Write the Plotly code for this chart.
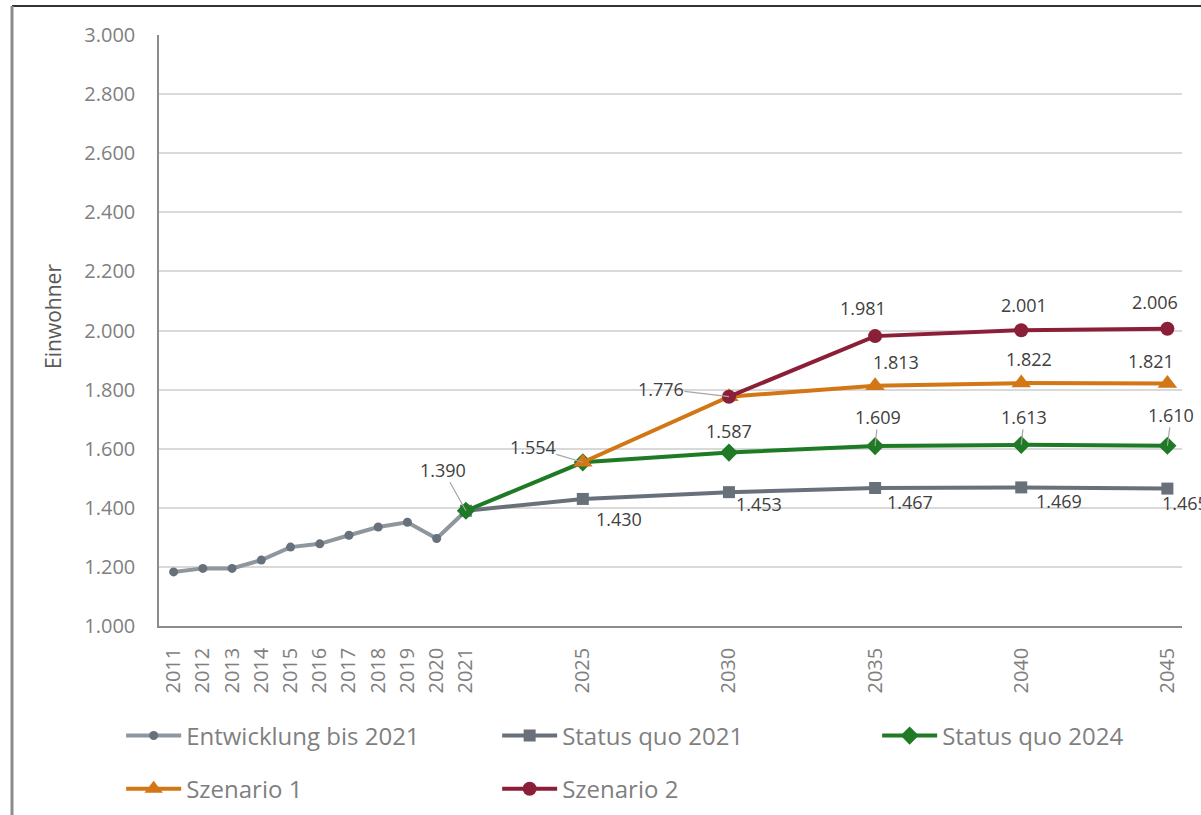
import plotly.graph_objects as go

# Einwohnerentwicklung und Prognosevarianten
hist_years = [2011, 2012, 2013, 2014, 2015, 2016, 2017, 2018, 2019, 2020, 2021]
hist_values = [1183, 1195, 1195, 1223, 1267, 1278, 1307, 1335, 1351, 1296, 1390]

sq21_years = [2021, 2025, 2030, 2035, 2040, 2045]
sq21_values = [1390, 1430, 1453, 1467, 1469, 1465]

sq24_years = [2021, 2025, 2030, 2035, 2040, 2045]
sq24_values = [1390, 1554, 1587, 1609, 1613, 1610]

sz1_years = [2025, 2030, 2035, 2040, 2045]
sz1_values = [1554, 1776, 1813, 1822, 1821]

sz2_years = [2030, 2035, 2040, 2045]
sz2_values = [1776, 1981, 2001, 2006]

x_ticks = hist_years + [2025, 2030, 2035, 2040, 2045]

FONT = "Open Sans"
TICK_GREY = "#7f7f7f"
LABEL_COL = "#404040"
LEADER_COL = "#a6a6a6"

fig = go.Figure()

fig.add_trace(go.Scatter(
    x=hist_years, y=hist_values, name="Entwicklung bis 2021", mode="lines+markers",
    line=dict(color="#8e969e", width=4),
    marker=dict(symbol="circle", size=9, color="#67717b"),
    legend="legend",
))
fig.add_trace(go.Scatter(
    x=sq21_years, y=sq21_values, name="Status quo 2021", mode="lines+markers",
    line=dict(color="#68717a", width=4),
    marker=dict(symbol="square", size=12, color="#68717a"),
    legend="legend",
))
fig.add_trace(go.Scatter(
    x=sq24_years, y=sq24_values, name="Status quo 2024", mode="lines+markers",
    line=dict(color="#1f7a25", width=4),
    marker=dict(symbol="diamond", size=14, color="#1f7a25"),
    legend="legend3",
))
fig.add_trace(go.Scatter(
    x=sz1_years, y=sz1_values, name="Szenario 1", mode="lines+markers",
    line=dict(color="#d27616", width=4),
    marker=dict(symbol="triangle-up", size=17, color="#d27616"),
    legend="legend2",
))
fig.add_trace(go.Scatter(
    x=sz2_years, y=sz2_values, name="Szenario 2", mode="lines+markers",
    line=dict(color="#8b1f38", width=4),
    marker=dict(symbol="circle", size=14, color="#8b1f38"),
    legend="legend2",
))


def fmt(v):
    return f"{v:,}".replace(",", ".")


# data labels: (year, value, dx, dy, leader line)
label_specs = [
    (2021, sq24_values[0], -23, -41, True),
    (2025, sq24_values[1], -50, -15, True),
    (2030, sz1_values[1], -68, -8, True),
    (2030, sq24_values[2], 0, -22, False),
    (2035, sq24_values[3], 3, -29, True),
    (2040, sq24_values[4], 3, -28, True),
    (2045, sq24_values[5], 4, -31, True),
    (2025, sq21_values[1], 36, 20, False),
    (2030, sq21_values[2], 30, 12, False),
    (2035, sq21_values[3], 35, 14, False),
    (2040, sq21_values[4], 38, 14, False),
    (2045, sq21_values[5], 18, 14, False),
    (2035, sz1_values[2], 21, -24, False),
    (2040, sz1_values[3], 8, -24, False),
    (2045, sz1_values[4], -16, -22, False),
    (2035, sz2_values[1], -12, -28, False),
    (2040, sz2_values[2], 3, -25, False),
    (2045, sz2_values[3], -12, -27, False),
]

for yr, val, dx, dy, leader in label_specs:
    common = dict(x=yr, y=val, xref="x", yref="y", text=fmt(val),
                  font=dict(family=FONT, size=18, color=LABEL_COL))
    if leader:
        fig.add_annotation(**common, showarrow=True, ax=dx, ay=dy,
                           arrowhead=0, arrowwidth=1.2, arrowcolor=LEADER_COL,
                           borderpad=0)
    else:
        fig.add_annotation(**common, showarrow=False, xshift=dx, yshift=-dy)

# y axis title
fig.add_annotation(text="Einwohner", xref="paper", yref="paper",
                   x=-0.1036, y=0.523, xanchor="center", yanchor="middle",
                   showarrow=False, textangle=-90,
                   font=dict(family=FONT, size=21, color="#595959"))

# outer frame of the chart area
fig.add_shape(type="line", xref="paper", yref="paper",
              x0=-0.1437, x1=1.02, y0=1.049, y1=1.049,
              line=dict(color="#333333", width=2))
fig.add_shape(type="line", xref="paper", yref="paper",
              x0=-0.1437, x1=-0.1437, y0=1.049, y1=-0.33,
              line=dict(color="#8c8c8c", width=3))

legend_common = dict(
    orientation="h", xanchor="left", yanchor="middle",
    entrywidthmode="pixels", itemwidth=55,
    font=dict(family=FONT, size=24, color=TICK_GREY),
    bgcolor="rgba(0,0,0,0)",
)

fig.update_layout(
    width=1201, height=815,
    margin=dict(l=159, r=19, t=35, b=189, autoexpand=False),
    plot_bgcolor="white", paper_bgcolor="white",
    separators=",.",
    font=dict(family=FONT, color=TICK_GREY),
    xaxis=dict(
        range=[2010.5, 2045.5], tickmode="array", tickvals=x_ticks,
        tickangle=-90, showgrid=False, zeroline=False, automargin=False,
        showline=True, linecolor="#8c8c8c", linewidth=1.5,
        ticks="", ticklabelstandoff=12,
        tickfont=dict(family=FONT, size=20, color=TICK_GREY),
    ),
    yaxis=dict(
        range=[1000, 3000], dtick=200, tickformat=",d", automargin=False,
        showgrid=True, gridcolor="#d9d9d9", gridwidth=1.5, zeroline=False,
        showline=True, linecolor="#8c8c8c", linewidth=1.5,
        ticks="", ticklabelstandoff=18,
        tickfont=dict(family=FONT, size=20, color=TICK_GREY),
    ),
    legend=dict(**legend_common, entrywidth=306, x=-0.037, y=-0.186),
    legend3=dict(**legend_common, entrywidth=220, x=0.702, y=-0.186),
    legend2=dict(**legend_common, entrywidth=306, x=-0.037, y=-0.276),
    showlegend=True,
)

fig.write_html("out.html")
